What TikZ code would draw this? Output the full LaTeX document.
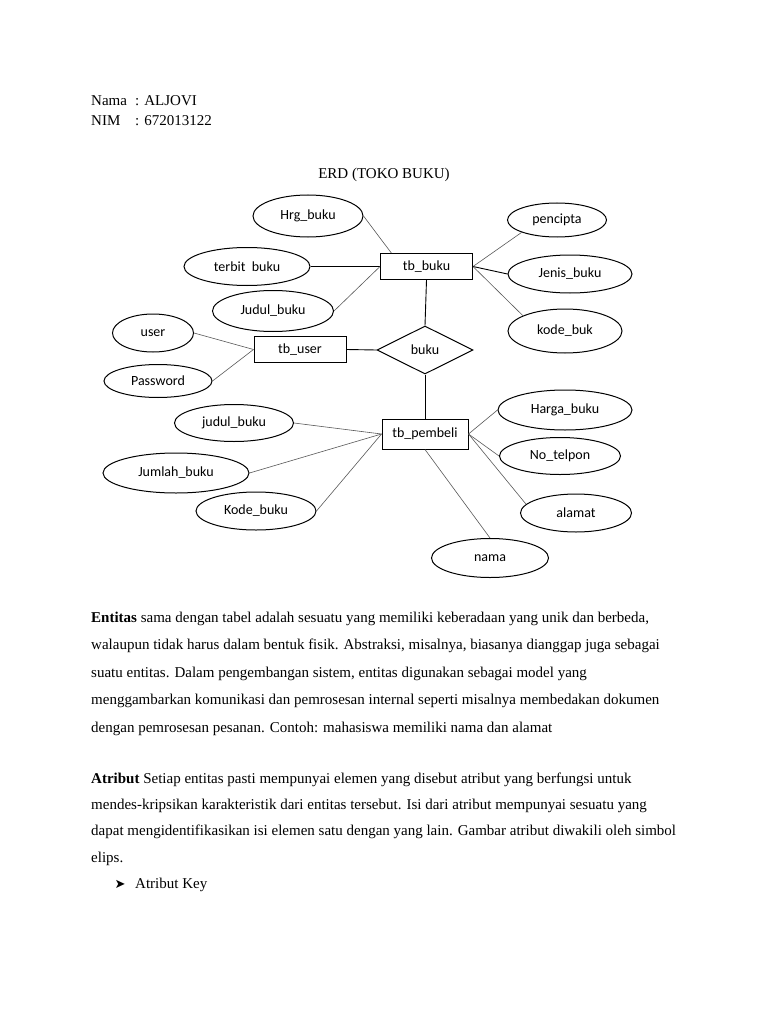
\documentclass[tikz,border=0pt]{standalone}
\usepackage{fontspec}
\setmainfont{Liberation Serif}
\newfontfamily\erdfont{Carlito}
\newfontfamily\symfont{DejaVu Sans}
\usetikzlibrary{shapes.geometric}

\begin{document}
\begin{tikzpicture}[x=1pt,y=-1pt,
  attr/.style={ellipse,draw,line width=1pt,inner sep=0pt,minimum height=38pt,
    font=\erdfont\fontsize{14}{16}\selectfont},
  entity/.style={rectangle,draw,line width=1pt,inner sep=0pt,minimum width=92pt,
    minimum height=26pt,font=\erdfont\fontsize{14}{16}\selectfont},
  relation/.style={diamond,draw,line width=1pt,inner sep=0pt,minimum width=96pt,
    minimum height=48pt,font=\erdfont\fontsize{14}{16}\selectfont},
  link/.style={draw=black!65,line width=0.6pt},
  bond/.style={draw=black,line width=0.9pt},
  body/.style={anchor=base west,inner sep=0pt,font=\fontsize{15}{18}\selectfont}]
  \useasboundingbox[fill=white] (0,0) rectangle (768,1024);

  % Header
  \node[body] (nama) at (91,106) {Nama};
  \node[body] (namaval) at (135,106) {: ALJOVI};
  \node[body] (nim) at (91,125.5) {NIM};
  \node[body] (nimval) at (135,125.5) {: 672013122};
  \node[body,anchor=base] (title) at (384,179) {ERD (TOKO BUKU)};

  % Entities and relation
  \node[entity] (tbbuku) at (426.5,266.5) {tb\_buku};
  \node[entity] (tbuser) at (300,349.5) {tb\_user};
  \node[relation] (buku) at (425,350) {buku};
  \node[entity,minimum width=86pt,minimum height=30pt] (tbpembeli) at (425,434) {tb\_pembeli};

  % Attributes of tb_buku
  \node[attr,minimum width=110pt,minimum height=42pt] (hrgbuku) at (308,216) {Hrg\_buku};
  \node[attr,minimum width=126pt] (terbitbuku) at (247,266.5) {terbit~~buku};
  \node[attr,minimum width=121pt,minimum height=41pt] (judulbuku) at (273,311) {Judul\_buku};
  \node[attr,minimum width=99pt,minimum height=34pt] (pencipta) at (557,220) {pencipta};
  \node[attr,minimum width=124pt] (jenisbuku) at (570,274) {Jenis\_buku};
  \node[attr,minimum width=114pt,minimum height=44pt] (kodebuk) at (565,331) {kode\_buk};

  % Attributes of tb_user
  \node[attr,minimum width=81pt] (user) at (153,333) {user};
  \node[attr,minimum width=108pt,minimum height=33pt] (password) at (158,381) {Password};

  % Attributes of tb_pembeli
  \node[attr,minimum width=119pt,minimum height=37pt] (judul) at (234,423) {judul\_buku};
  \node[attr,minimum width=146pt,minimum height=40pt] (jumlahbuku) at (176,473) {Jumlah\_buku};
  \node[attr,minimum width=120pt] (kodebuku) at (256,511) {Kode\_buku};
  \node[attr,minimum width=134pt,minimum height=40pt] (hargabuku) at (565,410) {Harga\_buku};
  \node[attr,minimum width=121pt,minimum height=37pt] (notelpon) at (560,456) {No\_telpon};
  \node[attr,minimum width=111pt] (alamat) at (576,513) {alamat};
  \node[attr,minimum width=117pt,minimum height=39pt] (namaattr) at (490,558) {nama};

  % Connectors
  \draw[link] (hrgbuku.east) -- (tbbuku.159);
  \draw[bond] (terbitbuku.east) -- (tbbuku.west);
  \draw[link] (judulbuku.east) -- (tbbuku.west);
  \draw[link] (tbbuku.east) -- (pencipta.south west);
  \draw[bond] (tbbuku.east) -- (jenisbuku.west);
  \draw[link] (tbbuku.east) -- (kodebuk.160);
  \draw[bond] (tbbuku.south) -- (buku.north);
  \draw[link] (user.east) -- (tbuser.west);
  \draw[link] (password.east) -- (tbuser.west);
  \draw[bond] (tbuser.east) -- (buku.west);
  \draw[bond] (buku.south) -- (tbpembeli.north);
  \draw[link] (judul.east) -- (tbpembeli.west);
  \draw[link] (jumlahbuku.east) -- (tbpembeli.west);
  \draw[link] (kodebuku.east) -- (tbpembeli.west);
  \draw[link] (tbpembeli.east) -- (hargabuku.west);
  \draw[link] (tbpembeli.east) -- (notelpon.west);
  \draw[link] (tbpembeli.east) -- (alamat.170);
  \draw[link] (tbpembeli.south) -- (namaattr.north);

  % Text below the diagram
  \node[body] (ent1) at (91,622) {\textbf{Entitas} sama dengan tabel adalah sesuatu yang memiliki keberadaan yang unik dan berbeda,};
  \node[body] (ent2) at (91,649.5) {walaupun tidak harus dalam bentuk fisik. Abstraksi, misalnya, biasanya dianggap juga sebagai};
  \node[body] (ent3) at (91,677) {suatu entitas. Dalam pengembangan sistem, entitas digunakan sebagai model yang};
  \node[body] (ent4) at (91,704.5) {menggambarkan komunikasi dan pemrosesan internal seperti misalnya membedakan dokumen};
  \node[body] (ent5) at (91,732) {dengan pemrosesan pesanan. Contoh: mahasiswa memiliki nama dan alamat};
  \node[body] (atr1) at (91,783.5) {\textbf{Atribut} Setiap entitas pasti mempunyai elemen yang disebut atribut yang berfungsi untuk};
  \node[body] (atr2) at (91,809) {mendes-kripsikan karakteristik dari entitas tersebut. Isi dari atribut mempunyai sesuatu yang};
  \node[body] (atr3) at (91,835.5) {dapat mengidentifikasikan isi elemen satu dengan yang lain. Gambar atribut diwakili oleh simbol};
  \node[body] (atr4) at (91,862) {elips.};
  \node[body,font=\symfont\fontsize{13}{15}\selectfont] (bullet) at (114.5,888.5) {➤};
  \node[body] (atrkey) at (135,888.5) {Atribut Key};
\end{tikzpicture}
\end{document}
